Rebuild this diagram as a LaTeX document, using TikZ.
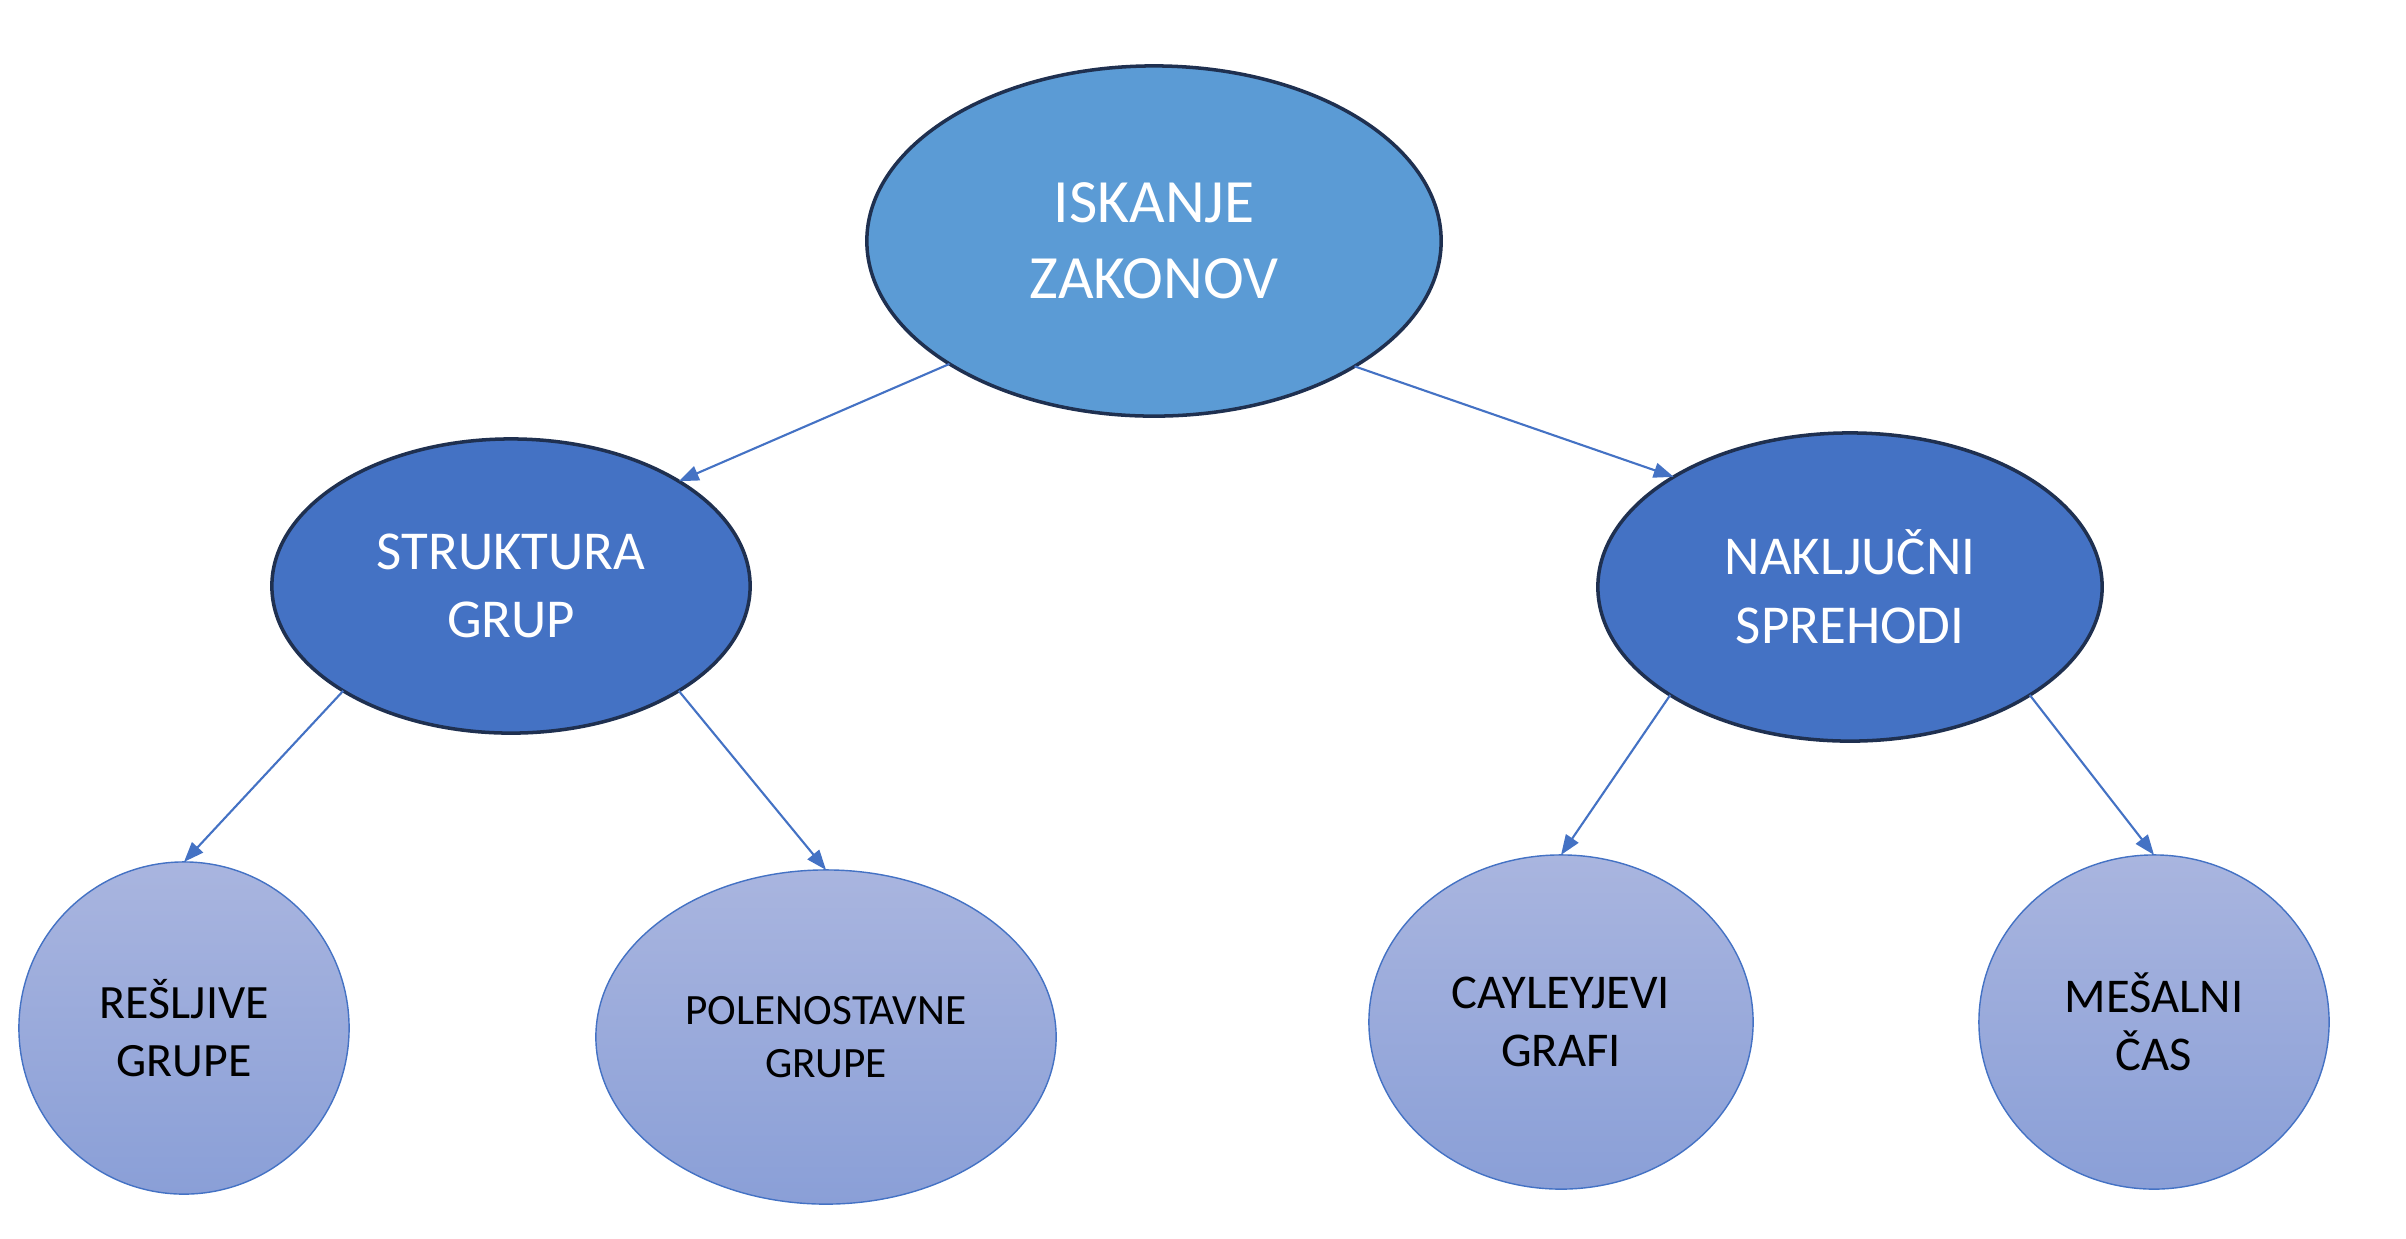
\documentclass[tikz,border=0pt]{standalone}
\usepackage{fontspec}
\setmainfont{Carlito}
\usetikzlibrary{shapes.geometric,arrows.meta}
\definecolor{topfill}{HTML}{5B9BD5}
\definecolor{midfill}{HTML}{4472C4}
\definecolor{darkedge}{HTML}{1F3050}
\definecolor{leafedge}{HTML}{4472C4}
\definecolor{leaftop}{HTML}{A9B5DF}
\definecolor{leafbot}{HTML}{8A9FD7}
\definecolor{arrowcol}{HTML}{4472C4}
\tikzset{
  oval/.style={ellipse, inner sep=0pt, outer sep=0pt, align=center},
  topnode/.style={oval, fill=topfill, draw=darkedge, line width=1pt, text=white,
    font=\fontsize{17.5}{21.5}\selectfont},
  midnode/.style={oval, fill=midfill, draw=darkedge, line width=1pt, text=white,
    font=\fontsize{15.6}{19.5}\selectfont},
  leafnode/.style={oval, top color=leaftop, bottom color=leafbot, draw=leafedge, line width=0.4pt, text=black,
    font=\fontsize{13.8}{16.5}\selectfont},
  conn/.style={draw=arrowcol, line width=0.6pt, -{Triangle[length=0.2cm,width=0.15cm]}}
}
\begin{document}
\begin{tikzpicture}[x=0.01cm,y=-0.01cm]
\useasboundingbox (0,0) rectangle (2406,1238);
\node[topnode, minimum width=5.74cm, minimum height=3.50cm] (top) at (1154,241) {ISKANJE\\ZAKONOV};
\node[midnode, minimum width=4.78cm, minimum height=2.94cm] (grp) at (511,586) {STRUKTURA\\GRUP};
\node[midnode, minimum width=5.04cm, minimum height=3.08cm] (rw) at (1850,587) {NAKLJUČNI\\SPREHODI};
\node[leafnode, minimum width=3.30cm, minimum height=3.32cm, font=\fontsize{13.6}{16.5}\selectfont] (b1) at (184,1028) {REŠLJIVE\\GRUPE};
\node[leafnode, minimum width=4.60cm, minimum height=3.34cm, font=\fontsize{12.3}{15}\selectfont] (b2) at (826,1037) {POLENOSTAVNE\\GRUPE};
\node[leafnode, minimum width=3.84cm, minimum height=3.34cm] (b3) at (1561,1022) {CAYLEYJEVI\\GRAFI};
\node[leafnode, minimum width=3.50cm, minimum height=3.34cm] (b4) at (2154,1022) {MEŠALNI\\ČAS};
\draw[conn] (top.211) -- (grp.32);
\draw[conn] (top.-32) -- (rw.148);
\draw[conn] (grp.-148) -- (b1.north);
\draw[conn] (grp.-32) -- (b2.north);
\draw[conn] (rw.-149) -- (b3.north);
\draw[conn] (rw.-31) -- (b4.north);
\end{tikzpicture}
\end{document}
